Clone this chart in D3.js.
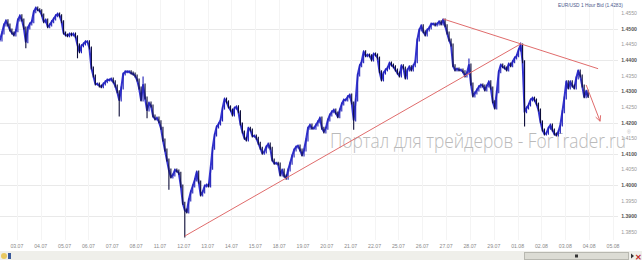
<!DOCTYPE html>
<html lang="ru">
<head>
<meta charset="utf-8">
<style>
  html, body { margin: 0; padding: 0; background: #fff; overflow: hidden; }
  svg { display: block; font-family: "Liberation Sans", Arial, sans-serif; }
</style>
</head>
<body>
<svg width="642" height="260"></svg>
<script src="https://d3js.org/d3.v7.min.js"></script>
<script>
// trading days on the time axis
const dayLabels = ["03.07","04.07","05.07","06.07","07.07","08.07","11.07","12.07","13.07","14.07",
  "15.07","18.07","19.07","20.07","21.07","22.07","25.07","26.07","27.07","28.07","29.07",
  "01.08","02.08","03.08","04.08","05.08"];
const monthLabels = [{ day: 0, text: "июл 2011" }, { day: 21, text: "авг 2011" }];
const priceTicks = [1.3850,1.3900,1.3950,1.4000,1.4050,1.4100,1.4150,1.4200,1.4250,1.4300,
  1.4350,1.4400,1.4450,1.4500,1.4550];

// EUR/USD closes, one every 2 hours, first one 17 h before the 03.07 mark
const barHours = 2;
const firstHour = -17;
const closes = [
  1.4464,1.4486,1.4512,1.4525,1.4512,1.4496,1.4486,1.4480,1.4493,1.4528,1.4541,1.4528,
  1.4502,1.4458,1.4502,1.4515,1.4522,1.4554,1.4566,1.4560,1.4557,1.4544,1.4522,1.4528,
  1.4506,1.4512,1.4522,1.4531,1.4541,1.4547,1.4541,1.4522,1.4486,1.4480,1.4477,1.4483,
  1.4480,1.4483,1.4474,1.4448,1.4426,1.4445,1.4451,1.4458,1.4458,1.4438,1.4374,1.4349,
  1.4323,1.4323,1.4317,1.4314,1.4323,1.4330,1.4336,1.4336,1.4339,1.4330,1.4317,1.4298,
  1.4272,1.4310,1.4355,1.4362,1.4362,1.4362,1.4358,1.4355,1.4349,1.4336,1.4310,1.4272,
  1.4320,1.4278,1.4240,1.4262,1.4253,1.4221,1.4211,1.4214,1.4202,1.4182,1.4144,1.4112,
  1.4080,1.4048,1.4026,1.4032,1.4048,1.4045,1.4038,1.3997,1.3942,1.3920,1.3914,1.3952,
  1.3978,1.3997,1.4016,1.4042,1.4010,1.3968,1.3978,1.3997,1.4000,1.3997,1.4054,1.4118,
  1.4160,1.4186,1.4195,1.4208,1.4246,1.4275,1.4266,1.4250,1.4240,1.4224,1.4246,1.4250,
  1.4234,1.4195,1.4170,1.4150,1.4144,1.4182,1.4176,1.4157,1.4157,1.4150,1.4134,1.4118,
  1.4102,1.4106,1.4122,1.4131,1.4118,1.4080,1.4070,1.4070,1.4067,1.4032,1.4048,1.4029,
  1.4022,1.4048,1.4070,1.4093,1.4112,1.4122,1.4125,1.4112,1.4096,1.4112,1.4144,1.4182,
  1.4192,1.4182,1.4182,1.4192,1.4202,1.4214,1.4182,1.4170,1.4182,1.4208,1.4224,1.4234,
  1.4240,1.4230,1.4218,1.4240,1.4259,1.4272,1.4272,1.4282,1.4288,1.4262,1.4208,1.4272,
  1.4352,1.4381,1.4394,1.4426,1.4413,1.4416,1.4413,1.4400,1.4419,1.4416,1.4406,1.4362,
  1.4336,1.4358,1.4368,1.4374,1.4390,1.4384,1.4378,1.4368,1.4358,1.4349,1.4381,1.4374,
  1.4342,1.4368,1.4378,1.4368,1.4381,1.4394,1.4464,1.4496,1.4509,1.4490,1.4480,1.4496,
  1.4502,1.4515,1.4515,1.4512,1.4515,1.4522,1.4515,1.4528,1.4509,1.4486,1.4464,1.4448,
  1.4381,1.4368,1.4371,1.4368,1.4368,1.4362,1.4349,1.4358,1.4384,1.4323,1.4285,1.4294,
  1.4304,1.4314,1.4320,1.4317,1.4304,1.4317,1.4330,1.4310,1.4266,1.4246,1.4298,1.4362,
  1.4384,1.4378,1.4374,1.4368,1.4387,1.4381,1.4394,1.4406,1.4413,1.4432,1.4448,1.4394,
  1.4234,1.4246,1.4256,1.4272,1.4278,1.4272,1.4259,1.4240,1.4202,1.4176,1.4163,1.4166,
  1.4182,1.4192,1.4176,1.4163,1.4160,1.4170,1.4192,1.4234,1.4278,1.4330,1.4310,1.4330,
  1.4317,1.4310,1.4342,1.4365,1.4349,1.4317,1.4282,1.4300,1.4283
];
// long shadows: [bar index, extreme price]
const spikes = [[13,1.4442],[39,1.4410],[60,1.4224],[72,1.4342],[74,1.4218],[85,1.3990],
  [93,1.3837],[178,1.4182],[236,1.4400],[262,1.4451],[264,1.4192]];
// hand drawn lines: [bar index, price] pairs
const trendLines = [
  { from: [93, 1.3837], to: [262, 1.4451], arrow: false },
  { from: [223, 1.4531], to: [301, 1.4372], arrow: false },
  { from: [295, 1.4320], to: [302, 1.4204], arrow: true }
];

const svg = d3.select("svg");
const W = 642, H = 260;

const x = d3.scaleLinear().domain([firstHour, (dayLabels.length - 1) * 24]).range([0, 613]);
const y = d3.scaleLinear().domain([1.3850, 1.4550]).range([232, 13]);
const barX = i => x(firstHour + i * barHours);
const isMajor = p => Math.round(p * 10000) % 100 === 0;

// grid
const grid = svg.append("g");
grid.selectAll("line.h")
  .data(priceTicks.filter(isMajor))
  .join("line")
  .attr("x1", 0).attr("x2", 618)
  .attr("y1", d => Math.round(y(d)) + 0.5).attr("y2", d => Math.round(y(d)) + 0.5)
  .attr("stroke", "#e9e9e9");
grid.selectAll("line.v")
  .data(dayLabels)
  .join("line")
  .attr("x1", (d, k) => Math.round(x(k * 24)) + 0.5).attr("x2", (d, k) => Math.round(x(k * 24)) + 0.5)
  .attr("y1", 0).attr("y2", 240)
  .attr("stroke", "#f4f4f4");

// watermark
svg.append("text")
  .attr("x", 330).attr("y", 148)
  .attr("textLength", 296).attr("lengthAdjust", "spacingAndGlyphs")
  .attr("font-family", "'Open Sans', sans-serif").attr("font-weight", 300)
  .attr("font-size", 20).attr("fill", "#bababa")
  .text("Портал для трейдеров - ForTrader.ru");
svg.append("text")
  .attr("x", 627).attr("y", 134).attr("font-size", 5).attr("fill", "#bababa").text("®");

// bars
const spikeMap = new Map(spikes);
const bars = closes.map((c, i) => {
  const o = i ? closes[i - 1] : c;
  let hi = Math.max(o, c), lo = Math.min(o, c);
  if (spikeMap.has(i)) { hi = Math.max(hi, spikeMap.get(i)); lo = Math.min(lo, spikeMap.get(i)); }
  return { i, o, c, hi, lo, up: c >= o };
});

svg.append("path")
  .datum(closes)
  .attr("fill", "none")
  .attr("stroke", "#3434d0")
  .attr("stroke-width", 2)
  .attr("stroke-linejoin", "round")
  .attr("d", d3.line().x((d, i) => barX(i)).y(d => y(d)));

svg.append("g")
  .selectAll("line")
  .data(bars)
  .join("line")
  .attr("x1", d => barX(d.i)).attr("x2", d => barX(d.i))
  .attr("y1", d => y(d.hi) - 1.5).attr("y2", d => y(d.lo) + 1.5)
  .attr("stroke", d => d.up ? "#2222b8" : "#0c0c38")
  .attr("stroke-width", 1.1);

// trend lines
const red = "#e06c6c";
trendLines.forEach(t => {
  const x1 = barX(t.from[0]), y1 = y(t.from[1]), x2 = barX(t.to[0]), y2 = y(t.to[1]);
  svg.append("line").attr("x1", x1).attr("y1", y1).attr("x2", x2).attr("y2", y2)
    .attr("stroke", red).attr("stroke-width", 1);
  if (t.arrow) {
    const a = Math.atan2(y2 - y1, x2 - x1);
    [-0.45, 0.45].forEach(da => {
      svg.append("line").attr("x1", x2).attr("y1", y2)
        .attr("x2", x2 - 6 * Math.cos(a + da)).attr("y2", y2 - 6 * Math.sin(a + da))
        .attr("stroke", red).attr("stroke-width", 1);
    });
  }
});

// price axis on the right
svg.append("g")
  .selectAll("text")
  .data(priceTicks)
  .join("text")
  .attr("x", 637).attr("y", d => y(d) + 2)
  .attr("text-anchor", "end")
  .attr("font-size", 5.2)
  .attr("font-weight", d => isMajor(d) ? "bold" : "normal")
  .attr("fill", d => isMajor(d) ? "#555" : "#9a9a9a")
  .text(d => d.toFixed(4));

// time axis
svg.append("g")
  .selectAll("text")
  .data(dayLabels)
  .join("text")
  .attr("x", (d, k) => x(k * 24)).attr("y", 248)
  .attr("text-anchor", "middle")
  .attr("font-size", 5.2).attr("fill", "#8a8a8a")
  .text(d => d);
svg.append("g")
  .selectAll("text")
  .data(monthLabels)
  .join("text")
  .attr("x", d => x(d.day * 24) - 3).attr("y", 254.5)
  .attr("font-size", 4.6).attr("fill", "#8a8a8a")
  .text(d => d.text);

// title
svg.append("text")
  .attr("x", 558).attr("y", 7)
  .attr("font-size", 4.8).attr("fill", "#4b5b8c")
  .text(`EUR/USD 1 Hour Bid (${closes[closes.length - 1].toFixed(4)})`);

// bottom strip with scroll bar
svg.append("rect").attr("x", 0).attr("y", 251).attr("width", W).attr("height", 9).attr("fill", "#efefea");
svg.append("rect").attr("x", 524.5).attr("y", 252.5).attr("width", 104).attr("height", 7)
  .attr("fill", "#dcdcd4").attr("stroke", "#b8b8b0");
svg.append("rect").attr("x", 575).attr("y", 254.5).attr("width", 3).attr("height", 3).attr("fill", "#333");
svg.append("path").attr("d", "M631,253.5 L634,256 L631,258.5 Z").attr("fill", "#333");
svg.append("text").attr("x", 635).attr("y", 259.5).attr("font-size", 8).attr("font-weight", "bold")
  .attr("fill", "#c0302a").text("✕");
svg.append("circle").attr("cx", 4).attr("cy", 256).attr("r", 3).attr("fill", "#e8c860");
svg.append("rect").attr("x", 8).attr("y", 253).attr("width", 3).attr("height", 6).attr("fill", "#3a5a9a");
</script>
</body>
</html>
